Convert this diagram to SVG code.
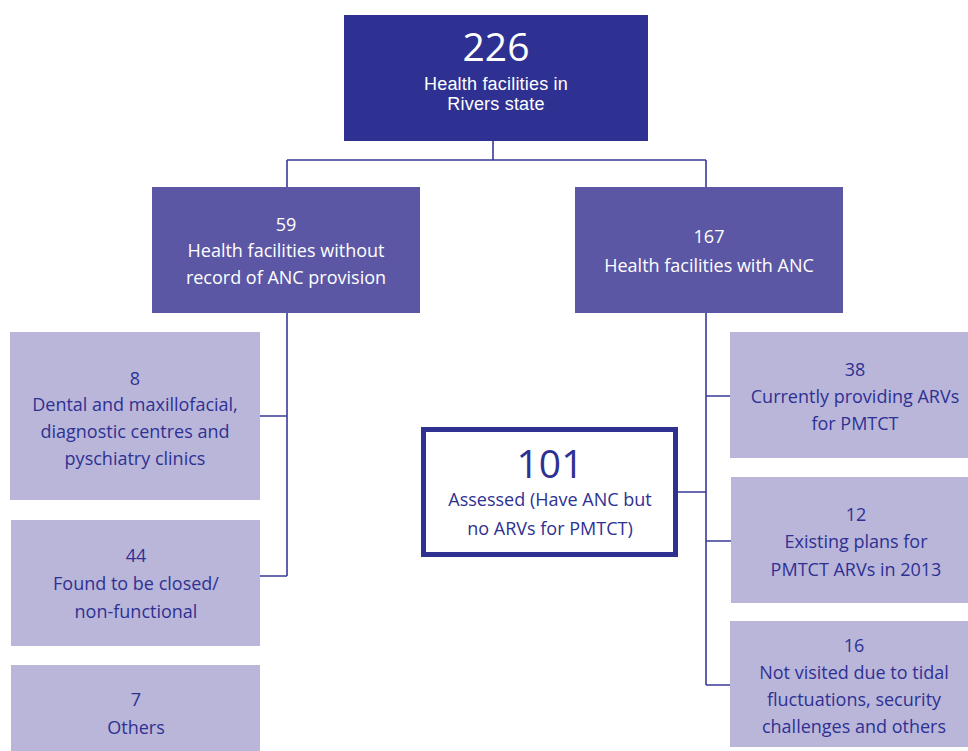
<svg xmlns="http://www.w3.org/2000/svg" width="968" height="751" viewBox="0 0 968 751">
<style>
text{font-family:"Open Sans","Noto Sans","Liberation Sans",sans-serif;text-anchor:middle;font-size:18px}
.w{fill:#ffffff}
.b{fill:#2e3192}
.big{font-size:39px}
.sm{font-family:"Liberation Sans",Arial,sans-serif;font-size:18px;letter-spacing:0.2px}
.top{fill:#2e3192}
.mid{fill:#5b57a5}
.lt{fill:#bab6da}
.ln{stroke:#3a3a96;stroke-width:1.6;fill:none}
</style>
<rect width="968" height="751" fill="#ffffff"/>
<g id="connectors">
<path class="ln" d="M493 141V160M287 160H706M287 160V187M706 160V187"/>
<path class="ln" d="M287 313V576M260 416H287M260 576H287"/>
<path class="ln" d="M706 313V685M706 396H730M678 492H706M706 541H731M706 685H730"/>
</g>
<g id="n226"><rect class="top" x="344" y="15" width="304" height="126"/>
<text class="w big" x="496" y="61">226</text>
<text class="w sm" x="496" y="89.5">Health facilities in</text>
<text class="w sm" x="496" y="109.7">Rivers state</text></g>
<g id="n59"><rect class="mid" x="152" y="187" width="268" height="126"/>
<text class="w" x="286" y="231">59</text>
<text class="w" x="286" y="257">Health facilities without</text>
<text class="w" x="286" y="284">record of ANC provision</text></g>
<g id="n167"><rect class="mid" x="575" y="187" width="268" height="126"/>
<text class="w" x="709" y="243">167</text>
<text class="w" x="709" y="272">Health facilities with ANC</text></g>
<g id="n8"><rect class="lt" x="10" y="332" width="250" height="168"/>
<text class="b" x="135" y="385">8</text>
<text class="b" x="135" y="411">Dental and maxillofacial,</text>
<text class="b" x="135" y="438">diagnostic centres and</text>
<text class="b" x="135" y="465">pyschiatry clinics</text></g>
<g id="n44"><rect class="lt" x="11" y="520" width="249" height="126"/>
<text class="b" x="136" y="562">44</text>
<text class="b" x="136" y="590">Found to be closed/</text>
<text class="b" x="136" y="618">non-functional</text></g>
<g id="n7"><rect class="lt" x="11" y="665" width="249" height="86"/>
<text class="b" x="136" y="706">7</text>
<text class="b" x="136" y="734">Others</text></g>
<g id="n101"><rect x="423.5" y="429.5" width="252" height="125" fill="#ffffff" stroke="#2e3192" stroke-width="5"/>
<text class="b big" x="550" y="478">101</text>
<text class="b" x="550" y="506">Assessed (Have ANC but</text>
<text class="b" x="550" y="535">no ARVs for PMTCT)</text></g>
<g id="n38"><rect class="lt" x="730" y="332" width="238" height="126"/>
<text class="b" x="855" y="376">38</text>
<text class="b" x="855" y="403">Currently providing ARVs</text>
<text class="b" x="855" y="430">for PMTCT</text></g>
<g id="n12"><rect class="lt" x="731" y="477" width="237" height="126"/>
<text class="b" x="856" y="521">12</text>
<text class="b" x="856" y="548">Existing plans for</text>
<text class="b" x="856" y="576">PMTCT ARVs in 2013</text></g>
<g id="n16"><rect class="lt" x="730" y="621" width="238" height="126"/>
<text class="b" x="854" y="652">16</text>
<text class="b" x="854" y="679">Not visited due to tidal</text>
<text class="b" x="854" y="706">fluctuations, security</text>
<text class="b" x="854" y="733">challenges and others</text></g>
</svg>
